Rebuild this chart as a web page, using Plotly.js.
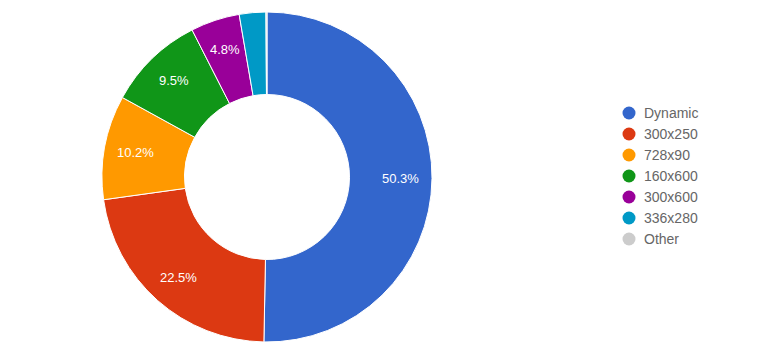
<!DOCTYPE html>
<html><head><meta charset="utf-8">
<script src="https://cdn.plot.ly/plotly-3.0.1.min.js"></script>
<style>html,body{margin:0;padding:0;background:#fff;}#chart{width:780px;height:359px;}</style>
</head><body><div id="chart"></div>
<script>
const labels = ['Dynamic','300x250','728x90','160x600','300x600','336x280','Other'];
const values = [50.3, 22.5, 10.2, 9.5, 4.8, 2.6, 0.1];
const colors = ['#3366cc','#dc3912','#ff9900','#109618','#990099','#0099c6','#cccccc'];
const showLabel = [true, true, true, true, true, false, false];

const W = 780, H = 359;
const CX = 267, CY = 177, R = 165, LABEL_R = 134;
const FONT = 'Arial, Liberation Sans, sans-serif';

const pie = {
  type: 'pie', labels: labels, values: values, sort: false, direction: 'clockwise', rotation: 0,
  hole: 0.5,
  marker: {colors: colors, line: {color: '#ffffff', width: 1}},
  textinfo: 'none',
  showlegend: false, hoverinfo: 'label+percent',
  domain: {x: [(CX-R)/W, (CX+R)/W], y: [1-(CY+R)/H, 1-(CY-R)/H]}
};

const total = values.reduce((a, b) => a + b, 0);
const annotations = [];
const shapes = [];
let cum = 0;
values.forEach((v, i) => {
  const mid = (cum + v / 2) / total * 2 * Math.PI;
  cum += v;
  if (!showLabel[i]) return;
  const px = CX + LABEL_R * Math.sin(mid);
  const py = CY - LABEL_R * Math.cos(mid);
  annotations.push({
    xref: 'paper', yref: 'paper', x: px / W, y: 1 - py / H, xanchor: 'center', yanchor: 'middle',
    text: (v / total * 100).toFixed(1) + '%', showarrow: false,
    font: {family: FONT, size: 13, color: '#ffffff'}
  });
});

// custom legend with circle markers
const LEG_X = 629, LEG_TX = 642, LEG_Y0 = 113, LEG_DY = 21;
labels.forEach((l, i) => {
  const yy = 1 - (LEG_Y0 + i * LEG_DY) / H;
  shapes.push({
    type: 'circle', xref: 'paper', yref: 'paper', xsizemode: 'pixel', ysizemode: 'pixel',
    xanchor: LEG_X / W, yanchor: yy, x0: -6.5, x1: 6.5, y0: -6.5, y1: 6.5,
    fillcolor: colors[i], line: {width: 0}
  });
  annotations.push({
    xref: 'paper', yref: 'paper', x: LEG_TX / W, y: yy, xanchor: 'left', yanchor: 'middle',
    text: l, showarrow: false, font: {family: FONT, size: 14, color: '#666666'}
  });
});

const layout = {
  width: W, height: H, margin: {l: 0, r: 0, t: 0, b: 0},
  paper_bgcolor: '#ffffff', plot_bgcolor: '#ffffff',
  showlegend: false, annotations: annotations, shapes: shapes
};
Plotly.newPlot('chart', [pie], layout, {displayModeBar: false, staticPlot: true});
</script></body></html>
